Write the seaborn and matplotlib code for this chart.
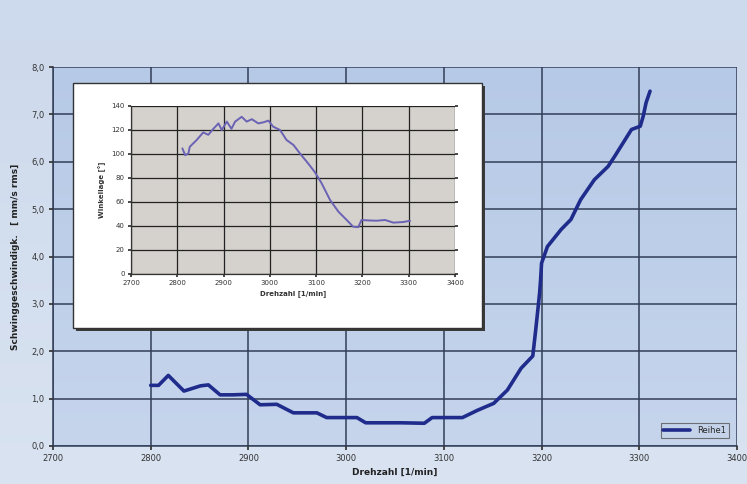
import numpy as np
import pandas as pd
import matplotlib
matplotlib.use("Agg")
import matplotlib.pyplot as plt
from matplotlib.colors import LinearSegmentedColormap
from matplotlib.patches import Rectangle
from matplotlib.ticker import FuncFormatter
import seaborn as sns

# Vibration velocity vs. speed (main series)
drehzahl = [2800, 2808, 2818, 2834, 2851, 2859, 2871, 2884, 2898, 2912, 2929,
            2946, 2970, 2980, 3011, 3020, 3056, 3080, 3088, 3119, 3134, 3151,
            3165, 3179, 3191, 3194, 3198, 3199, 3200, 3206, 3220, 3230, 3240,
            3254, 3268, 3275, 3292, 3301, 3304, 3307, 3311]
schwing = [1.28, 1.28, 1.49, 1.16, 1.27, 1.29, 1.08, 1.08, 1.09, 0.87, 0.88,
           0.70, 0.70, 0.60, 0.60, 0.49, 0.49, 0.48, 0.60, 0.60, 0.75, 0.90,
           1.18, 1.64, 1.90, 2.45, 3.23, 3.51, 3.86, 4.21, 4.57, 4.78, 5.20,
           5.62, 5.90, 6.12, 6.68, 6.75, 6.96, 7.25, 7.49]

# Phase angle vs. speed (inset series)
drehzahl_inset = [2811, 2817, 2824, 2827, 2842, 2856, 2867, 2878, 2889, 2896,
                  2907, 2917, 2925, 2939, 2950, 2961, 2975, 2986, 2997, 3007,
                  3022, 3036, 3051, 3065, 3083, 3097, 3112, 3130, 3148, 3166,
                  3180, 3191, 3198, 3215, 3231, 3249, 3267, 3288, 3303]
winkel = [104.7, 99.0, 100.5, 106.0, 111.7, 118.0, 116.0, 121.0, 125.5, 120.0,
          127.0, 121.0, 127.0, 131.0, 127.0, 129.0, 125.5, 126.4, 127.8, 122.8,
          120.0, 111.7, 107.5, 100.5, 92.0, 85.0, 75.5, 61.7, 52.0, 45.0,
          39.4, 39.0, 45.0, 44.6, 44.4, 45.0, 42.8, 43.3, 44.4]

x_ticks = [2700, 2800, 2900, 3000, 3100, 3200, 3300, 3400]
y_ticks = [0, 1, 2, 3, 4, 5, 6, 7, 8]
y_ticks_inset = [0, 20, 40, 60, 80, 100, 120, 140]

main_df = pd.DataFrame({"Drehzahl": drehzahl, "Reihe1": schwing})
inset_df = pd.DataFrame({"Drehzahl": drehzahl_inset, "Winkel": winkel})

sns.set_theme(style="white")
plt.rcParams["font.family"] = ["DejaVu Sans"]

W, H = 747, 484
fig = plt.figure(figsize=(W / 100, H / 100), dpi=100)

# Figure background gradient
bg = fig.add_axes([0, 0, 1, 1], zorder=-10)
bg_cmap = LinearSegmentedColormap.from_list("bg", ["#d9e3f1", "#cdd9ec"])
bg.imshow(np.linspace(0, 1, 256).reshape(-1, 1), aspect="auto", cmap=bg_cmap,
          extent=[0, 1, 0, 1], origin="lower")
bg.set_axis_off()

# Main axes
ax = fig.add_axes([53 / W, 1 - 446 / H, (737 - 53) / W, (446 - 67) / H])
ax_cmap = LinearSegmentedColormap.from_list("ax", ["#c6d5ec", "#b6c9e6"])
ax.imshow(np.linspace(0, 1, 256).reshape(-1, 1), aspect="auto", cmap=ax_cmap,
          extent=[2700, 3400, 0, 8], origin="lower", zorder=0)
sns.lineplot(data=main_df, x="Drehzahl", y="Reihe1", ax=ax, color="#1f2c8c",
             linewidth=2.6, label="Reihe1", zorder=3)
ax.set_xlim(2700, 3400)
ax.set_ylim(0, 8)
ax.set_xticks(x_ticks)
ax.set_yticks(y_ticks)
ax.yaxis.set_major_formatter(FuncFormatter(lambda v, p: f"{v:.1f}".replace(".", ",")))
ax.grid(True, color="#323e58", linewidth=1.1, zorder=1)
ax.set_axisbelow(False)
for s in ["top", "right"]:
    ax.spines[s].set_visible(False)
for s in ["left", "bottom"]:
    ax.spines[s].set_color("#323e58")
    ax.spines[s].set_linewidth(1.1)
ax.tick_params(axis="both", labelsize=6, colors="#333333", length=3,
               direction="out", left=True, bottom=True, pad=3)
ax.set_xlabel("Drehzahl [1/min]", fontsize=6.5, fontweight="bold", color="#222222",
              labelpad=3)
ax.set_ylabel("Schwinggeschwindigk.   [ mm/s rms]", fontsize=6.5, fontweight="bold",
              color="#222222", labelpad=8)
leg = ax.legend(loc="lower right", fontsize=6, frameon=True, fancybox=False,
                handlelength=3.2, borderpad=0.35, borderaxespad=1.0)
leg.get_frame().set_edgecolor("#555555")
leg.get_frame().set_facecolor("#c4d3ea")
leg.get_frame().set_linewidth(0.8)

# Inset frame with shadow
fig.patches.append(Rectangle(((73 + 3) / W, 1 - (328 + 3) / H), (482 - 73) / W,
                             (328 - 83) / H, transform=fig.transFigure,
                             facecolor="#3a3a3a", edgecolor="none", zorder=4))
fig.patches.append(Rectangle((73 / W, 1 - 328 / H), (482 - 73) / W, (328 - 83) / H,
                             transform=fig.transFigure, facecolor="white",
                             edgecolor="#333333", linewidth=1.0, zorder=5))

# Inset axes
ins = fig.add_axes([131 / W, 1 - 274 / H, (455 - 131) / W, (274 - 106) / H], zorder=6)
ins.set_facecolor("#d5d1cc")
sns.lineplot(data=inset_df, x="Drehzahl", y="Winkel", ax=ins, color="#6a62b4",
             linewidth=1.4, zorder=3)
ins.set_xlim(2700, 3400)
ins.set_ylim(0, 140)
ins.set_xticks(x_ticks)
ins.set_yticks(y_ticks_inset)
ins.grid(True, color="#222222", linewidth=0.9, zorder=1)
for s in ["top", "right"]:
    ins.spines[s].set_visible(False)
for s in ["left", "bottom"]:
    ins.spines[s].set_color("#333333")
    ins.spines[s].set_linewidth(0.9)
ins.tick_params(axis="both", labelsize=5, colors="#333333", length=2.5,
                direction="out", left=True, bottom=True, right=True, pad=2)
ins.tick_params(axis="y", which="both", right=True, labelright=False)
ins.set_xlabel("Drehzahl [1/min]", fontsize=5, fontweight="bold", color="#333333",
               labelpad=3)
ins.set_ylabel("Winkellage [°]", fontsize=5, fontweight="bold", color="#333333",
               labelpad=4)

fig.savefig("out.png", dpi=100)
